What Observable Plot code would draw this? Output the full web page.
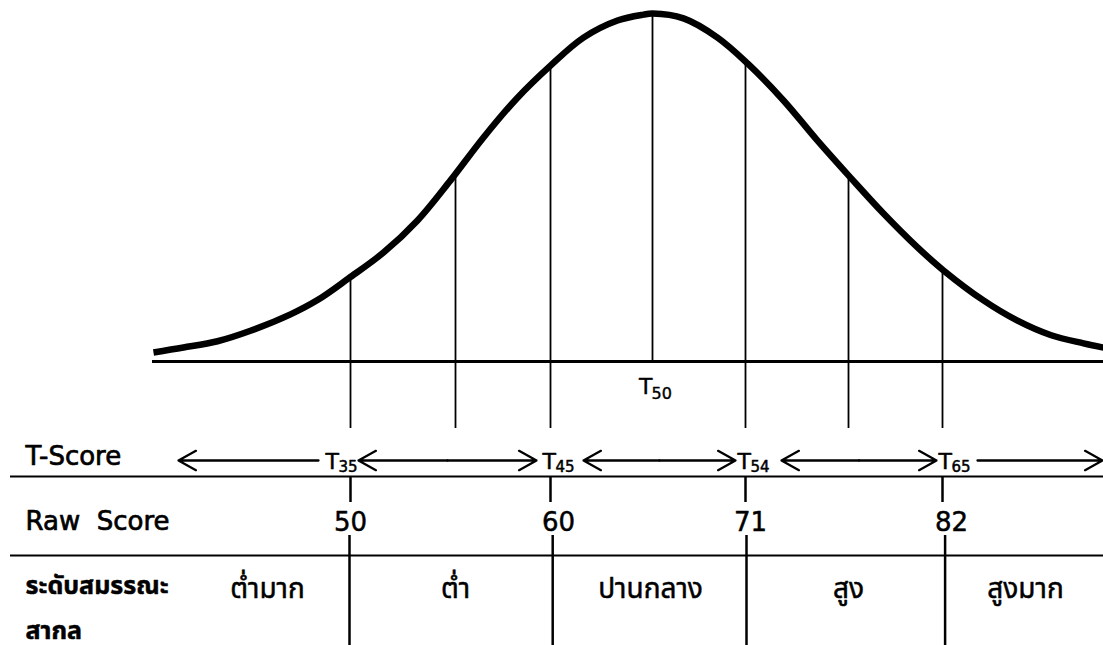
<!DOCTYPE html>
<html>
<head>
<meta charset="utf-8">
<script src="https://cdn.jsdelivr.net/npm/d3@7"></script>
<script src="https://cdn.jsdelivr.net/npm/@observablehq/plot@0.6"></script>
<style>
  html, body { margin: 0; padding: 0; background: #fff; }
  #chart svg { display: block; }
</style>
</head>
<body>
<div id="chart"></div>
<script>
// ---- Data ----
// Bell curve: horizontal position (u, roughly SD units, 0 = centre) and height (v, peak = 1)
const curveU = [-4.99, -4.69, -4.35, -4.02, -3.62, -3.35, -3.04, -2.69, -2.35, -2.02, -1.69, -1.35, -1.02, -0.69, -0.35, -0.09, 0, 0.31, 0.65, 0.95, 1.31, 1.65, 1.98, 2.31, 2.65, 2.91, 3.31, 3.65, 3.98, 4.31, 4.51];
const curveV = [0.026, 0.040, 0.058, 0.088, 0.135, 0.176, 0.238, 0.312, 0.404, 0.519, 0.642, 0.756, 0.848, 0.928, 0.977, 0.994, 0.997, 0.983, 0.928, 0.854, 0.748, 0.633, 0.527, 0.424, 0.327, 0.261, 0.175, 0.117, 0.076, 0.052, 0.040];

// Vertical divider lines under the curve
const dividerU = [-3.02, -1.97, -1.02, 0, 0.93, 1.96, 2.90];
const dividerV = [0.245, 0.535, 0.848, 0.997, 0.860, 0.533, 0.263];

// T-score cut points (row 1) and raw scores (row 2)
const tCutU = [-3.02, -1.02, 0.93, 2.90];
const tNames = ["35", "45", "54", "65"];
const tLabelU = [-3.27, -1.10, 0.85, 2.86];
const rawScores = ["50", "60", "71", "82"];
const rawLabelU = [-3.02, -0.94, 0.98, 2.99];

// Competency levels (row 3)
const levels = ["ต่ำมาก", "ต่ำ", "ปานกลาง", "สูง", "สูงมาก"];
const levelU = [-3.85, -1.97, -0.02, 1.96, 3.73];

// T-score arrows: [from, to, double-headed?]
const arrowFrom = [-3.34, -2.94, -0.69, 1.29, 3.25];
const arrowTo   = [-4.74, -1.16, 0.83, 2.84, 4.50];
const arrowBoth = [false, true, true, true, false];

// Row labels
const rowLabels = ["T-Score", "Raw  Score"];
const levelTitle = ["ระดับสมรรณะ", "สากล"];
const centreLabel = {t: "T", sub: "50"};

// ---- Layout helpers (pixel rows converted into the v scale) ----
const W = 1103, H = 645;
const BASE_PX = 361, PEAK_PX = 12;
const v = px => (BASE_PX - px) / (BASE_PX - PEAK_PX);
const uOfPx = px => (px - 652) / 100;

const FONT = "'DejaVu Sans', 'Noto Sans Thai', Tahoma, sans-serif";
const ink = {fill: "#000", stroke: "#000", strokeWidth: 0.7};

const curve = curveU.map((u, i) => ({u, v: curveV[i]}));
const dividers = dividerU.map((u, i) => ({u, top: dividerV[i], bottom: u === 0 ? 0 : v(428)}));

// arrow segments; double-headed ones split at their midpoint
const arrows = [];
arrowFrom.forEach((a, i) => {
  const b = arrowTo[i];
  if (arrowBoth[i]) {
    const m = (a + b) / 2;
    arrows.push({x1: m, x2: a}, {x1: m, x2: b});
  } else {
    arrows.push({x1: a, x2: b});
  }
});

const ROW1_Y = v(460), ROW1_BASE = v(468), ROW1_LABEL = v(464);
const LINE1 = v(476), LINE2 = v(555);
const ROW2_BASE = v(530), ROW2_LABEL = v(529);
const ROW3_BASE = v(597);

const plot = Plot.plot({
  width: W,
  height: H,
  margin: 0,
  x: {domain: [uOfPx(0), uOfPx(W)], axis: null},
  y: {domain: [v(H), v(0)], axis: null},
  style: {fontFamily: FONT, background: "#fff", color: "#000"},
  marks: [
    // baseline of the curve
    Plot.ruleY([0], {x1: uOfPx(152), x2: uOfPx(W), stroke: "#000", strokeWidth: 3}),
    // divider lines under the curve
    Plot.ruleX(dividers, {x: "u", y1: "bottom", y2: "top", stroke: "#000", strokeWidth: 1.8}),
    // bell curve
    Plot.line(curve, {x: "u", y: "v", curve: "catmull-rom", stroke: "#000", strokeWidth: 6.5, strokeLinecap: "butt"}),
    // T50 under the centre
    Plot.text([centreLabel], {x: 0, y: v(393), text: "t", textAnchor: "end", lineAnchor: "bottom", dx: 0, fontSize: 22, ...ink, strokeWidth: 0.4}),
    Plot.text([centreLabel], {x: 0, y: v(398), text: "sub", textAnchor: "start", lineAnchor: "bottom", dx: -1, fontSize: 16, ...ink, strokeWidth: 0.4}),

    // table horizontal lines
    Plot.ruleY([LINE1, LINE2], {x1: uOfPx(10), x2: uOfPx(W), stroke: "#000", strokeWidth: 2.2}),
    // ticks under the T-score row
    Plot.ruleX(tCutU, {y1: LINE1, y2: v(502), stroke: "#000", strokeWidth: 2.5}),
    // lines through the level row
    Plot.ruleX(tCutU, {x: (d, i) => rawLabelU[i] - 0.01 + (d - rawLabelU[i]) * 0.6, y1: v(535), y2: v(H), stroke: "#000", strokeWidth: 2.5}),

    // row labels
    Plot.text([rowLabels[0]], {x: uOfPx(25), y: ROW1_LABEL, text: d => d, textAnchor: "start", lineAnchor: "bottom", fontSize: 26, ...ink}),
    Plot.text([rowLabels[1]], {x: uOfPx(25), y: ROW2_LABEL, text: d => d, textAnchor: "start", lineAnchor: "bottom", fontSize: 26, ...ink}),
    Plot.text(levelTitle, {x: uOfPx(25), y: (d, i) => v(593 + 45 * i), text: d => d, textAnchor: "start", lineAnchor: "bottom", fontSize: 25, fontWeight: "bold", ...ink, strokeWidth: 0.5}),

    // T-score arrows
    Plot.arrow(arrows, {x1: "x1", x2: "x2", y1: ROW1_Y, y2: ROW1_Y, stroke: "#000", strokeWidth: 2.3, headLength: 13, headAngle: 58}),
    // T-score labels
    Plot.text(tNames, {x: (d, i) => tLabelU[i], y: ROW1_BASE, text: () => "T", textAnchor: "start", lineAnchor: "bottom", fontSize: 22, ...ink, strokeWidth: 0.5}),
    Plot.text(tNames, {x: (d, i) => tLabelU[i], y: v(471), text: d => d, textAnchor: "start", lineAnchor: "bottom", dx: 13, fontSize: 15, ...ink, strokeWidth: 0.5}),

    // raw scores
    Plot.text(rawScores, {x: (d, i) => rawLabelU[i], y: ROW2_BASE, text: d => d, textAnchor: "middle", lineAnchor: "bottom", fontSize: 26, ...ink, strokeWidth: 0.5}),

    // levels
    Plot.text(levels, {x: (d, i) => levelU[i], y: ROW3_BASE, text: d => d, textAnchor: "middle", lineAnchor: "bottom", fontSize: 28, ...ink, strokeWidth: 0.5})
  ]
});
document.getElementById("chart").appendChild(plot);
</script>
</body>
</html>
